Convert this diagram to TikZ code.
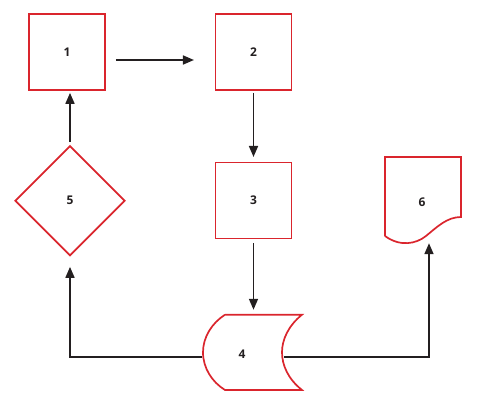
\documentclass[tikz,border=0pt]{standalone}
\usepackage{fontspec}
\setmainfont{Open Sans}
\usetikzlibrary{shapes.geometric,arrows.meta,calc}
\definecolor{fred}{RGB}{218,37,45}
\definecolor{fblack}{RGB}{35,31,32}
\tikzset{
  txt/.style={font=\fontsize{12}{14}\selectfont\bfseries,text=fblack},
  procbox/.style={txt,draw=fred,line width=1.7pt,minimum width=76pt,minimum height=76pt,inner sep=0pt},
  decbox/.style={txt,diamond,draw=fred,line width=1.7pt,minimum width=110pt,minimum height=110pt,inner sep=0pt},
  lbl/.style={txt,inner sep=0pt},
  redline/.style={draw=fred,line width=1.7pt},
  conn/.style={draw=fblack,line width=1.7pt,-{Triangle[length=11pt,width=9pt]}},
}
\begin{document}
\begin{tikzpicture}[x=1pt,y=-1pt]
\useasboundingbox (0,0) rectangle (488,412);
\node[procbox] (n1) at (67,52) {1};
\node[procbox] (n2) at (253.5,52) {2};
\node[procbox] (n3) at (253.5,200.5) {3};
\node[decbox] (n5) at (70,200.7) {5};
% stored data shape (4)
\node[lbl,minimum width=99pt,minimum height=75.3pt] (n4) at (252.5,352.3) {};
\node[lbl] at (242,354) {4};
\path[redline] (225,314.7) -- (302,314.7)
  .. controls (288,326) and (282,340) .. (282,352.3)
  .. controls (282,365) and (288,379) .. (302,390)
  -- (225,390)
  .. controls (212,382) and (203,368) .. (203,352.3)
  .. controls (203,337) and (212,323) .. (225,314.7);
% document shape (6)
\node[lbl,minimum width=76pt,minimum height=86pt] (n6) at (423,200) {};
\node[lbl] at (422,202) {6};
\path[redline] (385,236) -- (385,157) -- (461,157) -- (461,217)
  .. controls (447,217) and (437,227) .. (426,236)
  .. controls (416,244) and (400,247) .. (385,236);
% connectors
\path[conn] ([xshift=10pt,yshift=-8pt]n1.east) -- ([xshift=-20.7pt,yshift=-8pt]n2.west);
\path[conn] ([yshift=-2pt]n2.south) -- ([yshift=4.7pt]n3.north);
\path[conn] ([yshift=-4pt]n3.south) -- ([yshift=4.7pt]n3.south |- n4.north);
\path[conn] ([yshift=2.7pt]n5.north) -- ([yshift=-2pt]n5.north |- n1.south);
\coordinate (l4) at ([xshift=-1pt,yshift=-4.7pt]n4.west);
\coordinate (r4) at (284,357);
\path[conn] (l4) -| ([yshift=-10.3pt]n5.south);
\path[conn] (r4) -| ([xshift=6pt]n6.south);
\end{tikzpicture}
\end{document}
